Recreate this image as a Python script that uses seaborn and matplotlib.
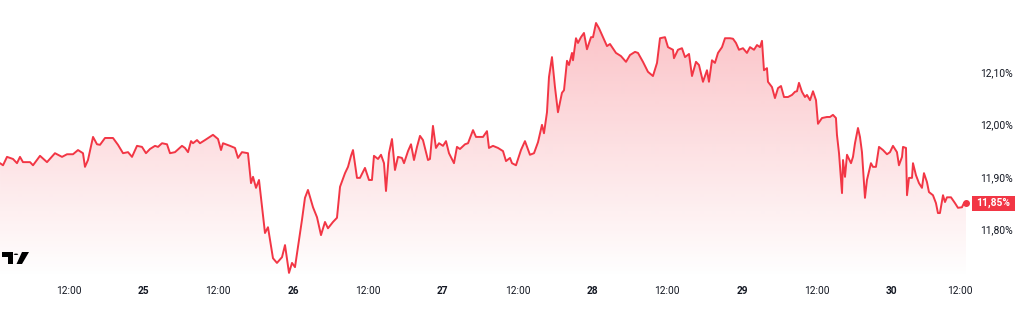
import numpy as np
import pandas as pd
import matplotlib
matplotlib.use("Agg")
import matplotlib.pyplot as plt
import seaborn as sns
from matplotlib.patches import Polygon, Circle, Rectangle
from matplotlib.transforms import blended_transform_factory, ScaledTranslation

# ---- data: hours since day 24 00:00, yield in % ----
hours = [
    1.03, 1.51, 2.15, 3.11, 3.75, 4.23, 4.71, 5.84, 6.32, 7.44, 8.56, 9.84, 10.97, 11.77,
    12.73, 13.53, 14.33, 14.65, 15.13, 15.94, 16.58, 17.06, 17.86, 19.14, 19.94, 20.75,
    21.55, 22.19, 22.99, 23.79, 24.43, 25.07, 25.88, 26.36, 27.00, 27.80, 28.28, 29.08,
    30.20, 30.68, 31.17, 31.65, 31.97, 32.61, 33.09, 33.89, 35.17, 35.98, 36.46, 36.78,
    37.90, 38.70, 39.18, 39.82, 40.78, 41.27, 41.59, 42.07, 42.55, 43.51, 43.99, 44.79,
    45.43, 46.24, 46.72, 47.36, 47.84, 48.32, 49.44, 49.92, 50.40, 51.21, 51.85, 52.49,
    53.13, 53.61, 54.41, 55.05,
    55.54, 56.34, 56.82, 57.30, 57.62, 58.26, 58.74, 59.54, 60.18, 60.66, 60.98, 61.63,
    62.11, 62.59, 62.91, 63.39, 63.87, 64.35, 64.83, 65.47, 65.80, 66.44, 66.92, 67.40,
    67.88, 68.36, 68.84, 69.64, 69.96, 70.44, 70.92, 71.41, 72.05, 72.53, 73.01, 73.81,
    74.29, 74.77, 75.58, 76.06, 76.86, 77.34, 78.46, 79.10, 79.42, 80.06, 80.87, 81.67,
    82.15, 82.79, 83.11, 83.75, 84.55, 85.19, 85.99, 86.64, 87.28, 87.92, 88.24, 88.72,
    89.04, 89.52, 90.00, 90.48, 91.12, 91.45, 91.93, 92.25, 92.73, 92.89, 93.37, 93.69,
    94.17, 94.65, 95.13, 95.78, 96.10, 96.58, 97.06, 97.70, 98.34, 98.82, 99.78, 100.58,
    101.39, 102.03, 102.83, 103.31, 104.11, 104.91, 105.71, 106.36,
    106.84, 107.64, 108.12, 108.92, 109.08, 109.72, 110.36, 110.85, 111.49, 111.97,
    112.61, 113.09, 113.73, 114.37, 114.69, 115.17, 115.65, 116.14, 116.78, 117.26,
    118.06, 118.54, 119.02, 119.50, 120.14, 120.78, 121.27, 121.91, 122.39, 122.87,
    123.19, 123.51, 123.99, 124.15, 124.79, 125.27, 125.76, 126.24, 126.72, 127.36,
    128.00, 128.48, 128.80, 129.12, 129.60, 130.08, 130.40, 130.89, 131.37, 131.85,
    132.17, 132.81, 133.61, 134.09, 134.57, 135.05, 135.21, 135.54, 136.02, 136.18,
    136.50, 136.82, 137.46, 137.78, 138.10, 138.58, 138.90, 139.22, 139.70, 140.02,
    140.66, 140.98, 141.46, 141.95, 142.59, 143.23, 143.71, 144.19, 144.83, 145.15,
    145.64, 145.80, 146.28, 146.44, 146.76, 147.24, 147.40, 147.88, 148.36, 148.84,
    149.16, 149.64, 149.96, 150.60, 151.08, 151.40, 151.72, 152.21, 152.53, 152.85,
    153.49, 154.13, 154.61, 155.25, 155.57, 155.90,
]
yields = [
    11.926, 11.922, 11.938, 11.934, 11.926, 11.938, 11.928, 11.928, 11.922, 11.940, 11.928,
    11.945, 11.938, 11.943, 11.943, 11.951, 11.945, 11.919, 11.932, 11.976, 11.962, 11.961,
    11.974, 11.974, 11.961, 11.945, 11.947, 11.938, 11.959, 11.957, 11.945, 11.953, 11.959,
    11.957, 11.964, 11.962, 11.945, 11.947, 11.959, 11.955, 11.947, 11.968, 11.964, 11.970,
    11.964, 11.970, 11.980, 11.972, 11.951, 11.964, 11.959, 11.955, 11.936, 11.947, 11.945,
    11.888, 11.900, 11.879, 11.894, 11.793, 11.804, 11.745, 11.736, 11.747, 11.770, 11.717,
    11.736, 11.728, 11.818, 11.860, 11.875, 11.842, 11.823, 11.789, 11.814, 11.802, 11.814,
    11.822,
    11.881, 11.907, 11.919, 11.940, 11.951, 11.898, 11.898, 11.917, 11.894, 11.894, 11.940,
    11.934, 11.942, 11.926, 11.873, 11.945, 11.972, 11.913, 11.938, 11.936, 11.926, 11.949,
    11.962, 11.932, 11.957, 11.978, 11.970, 11.932, 11.934, 11.997, 11.955, 11.964, 11.959,
    11.968, 11.945, 11.926, 11.957, 11.953, 11.962, 11.964, 11.989, 11.976, 11.976, 11.987,
    11.955, 11.959, 11.955, 11.949, 11.930, 11.936, 11.926, 11.922, 11.951, 11.968, 11.942,
    11.945, 11.966, 11.999, 11.983, 12.023, 12.090, 12.128, 12.071, 12.023, 12.060, 12.065,
    12.121, 12.113, 12.136, 12.122, 12.164, 12.155, 12.166, 12.174, 12.143, 12.166, 12.166,
    12.193, 12.183, 12.166, 12.149, 12.153, 12.136, 12.130, 12.119, 12.132, 12.138, 12.136,
    12.119, 12.100, 12.092, 12.117,
    12.164, 12.166, 12.147, 12.142, 12.126, 12.142, 12.145, 12.128, 12.134, 12.092, 12.119,
    12.113, 12.081, 12.103, 12.081, 12.122, 12.117, 12.136, 12.147, 12.164, 12.164, 12.163,
    12.155, 12.142, 12.145, 12.136, 12.147, 12.142, 12.151, 12.147, 12.159, 12.103, 12.107,
    12.081, 12.071, 12.050, 12.069, 12.073, 12.052, 12.052, 12.056, 12.062, 12.063, 12.079,
    12.062, 12.052, 12.056, 12.046, 12.063, 12.046, 12.001, 12.012, 12.014, 12.014, 12.018,
    12.012, 11.980, 11.945, 11.869, 11.932, 11.900, 11.942, 11.926, 11.938, 11.964, 11.993,
    11.976, 11.947, 11.860, 11.894, 11.926, 11.919, 11.919, 11.957, 11.951, 11.943, 11.947,
    11.959, 11.947, 11.922, 11.938, 11.957, 11.955, 11.865, 11.898, 11.898, 11.926, 11.903,
    11.888, 11.879, 11.907, 11.890, 11.871, 11.865, 11.850, 11.831, 11.831, 11.865, 11.852,
    11.861, 11.861, 11.850, 11.841, 11.842, 11.850, 11.850,
]
xtick_hours = [12, 24, 36, 48, 60, 72, 84, 96, 108, 120, 132, 144, 156]
xtick_labels = ["12:00", "25", "12:00", "26", "12:00", "27", "12:00", "28",
                "12:00", "29", "12:00", "30", "12:00"]
ytick_vals = [11.80, 11.90, 12.00, 12.10]
ytick_labels = ["11,80%", "11,90%", "12,00%", "12,10%"]

RED = "#F23645"
TEXT = "#131722"

sns.set_style("white")
plt.rcParams["font.family"] = ["Roboto", "DejaVu Sans"]

W, H = 1024, 326
fig = plt.figure(figsize=(W / 100, H / 100), dpi=100)
ax = fig.add_axes([0, 1 - 278 / H, 970 / W, 278 / H])

df = pd.DataFrame({"hour": hours, "yield": yields})

xlim = (1.026, 156.54)
ylim = (11.7073, 12.2368)

# gradient area fill
fill = ax.fill_between(df["hour"], df["yield"], ylim[0], facecolor="none", edgecolor="none")
n = 256
grad = np.zeros((n, 1, 4))
rgb = matplotlib.colors.to_rgb(RED)
grad[:, 0, 0], grad[:, 0, 1], grad[:, 0, 2] = rgb
grad[:, 0, 3] = np.linspace(0.30, 0.0, n)
top = max(yields)
im = ax.imshow(grad, extent=[xlim[0], xlim[1], ylim[0], top], aspect="auto",
               origin="upper", zorder=1, interpolation="bilinear")
im.set_clip_path(fill.get_paths()[0], transform=ax.transData)

sns.lineplot(data=df, x="hour", y="yield", color=RED, linewidth=1.4, ax=ax, zorder=3)
ax.plot([hours[-1]], [yields[-1]], "o", color=RED, ms=4, zorder=4)

ax.set_xlim(*xlim)
ax.set_ylim(*ylim)
ax.set_xlabel("")
ax.set_ylabel("")
for s in ax.spines.values():
    s.set_visible(False)
ax.grid(False)

ax.set_xticks(xtick_hours)
ax.set_xticklabels(xtick_labels)
ax.tick_params(axis="x", length=0, pad=6, labelsize=7.3, labelcolor=TEXT)
xl = ax.get_xticklabels()
for lbl in xl:
    if ":" not in lbl.get_text():
        lbl.set_fontweight("bold")
# last label sits slightly left, as in the reference
xl[-1].set_transform(xl[-1].get_transform() + ScaledTranslation(-0.07, 0, fig.dpi_scale_trans))

ax.yaxis.tick_right()
ax.set_yticks(ytick_vals)
ax.set_yticklabels(ytick_labels)
ax.tick_params(axis="y", length=0, pad=7.5, labelsize=7.4, labelcolor=TEXT)

# last value badge
bt = blended_transform_factory(fig.transFigure, ax.transData)
hpx = 15
hdat = hpx * (ylim[1] - ylim[0]) / 278
last = yields[-1]
fig.patches.append(Rectangle((972 / W, last - hdat / 2), 43 / W, hdat, transform=bt,
                             facecolor=RED, edgecolor="none", zorder=5))
fig.text(993.5 / W, last, f"{last:.2f}%".replace(".", ","), transform=bt, color="white",
         fontsize=7.4, fontweight="bold", ha="center", va="center", zorder=6)

# TradingView-like logo
def px(x, y):
    return (x / W, 1 - y / H)

fig.patches.append(Polygon([px(2, 252), px(12.5, 252), px(12.5, 264), px(8, 264),
                            px(8, 256.5), px(2, 256.5)], closed=True,
                           transform=fig.transFigure, facecolor="black", edgecolor="none"))
fig.patches.append(Circle(px(16, 254.3), 2.2 / W, transform=fig.transFigure,
                          facecolor="black", edgecolor="none"))
fig.patches.append(Polygon([px(22, 252), px(29, 252), px(22, 264), px(16.5, 264)],
                           closed=True, transform=fig.transFigure,
                           facecolor="black", edgecolor="none"))

fig.savefig("out.png", dpi=100, facecolor="white")
